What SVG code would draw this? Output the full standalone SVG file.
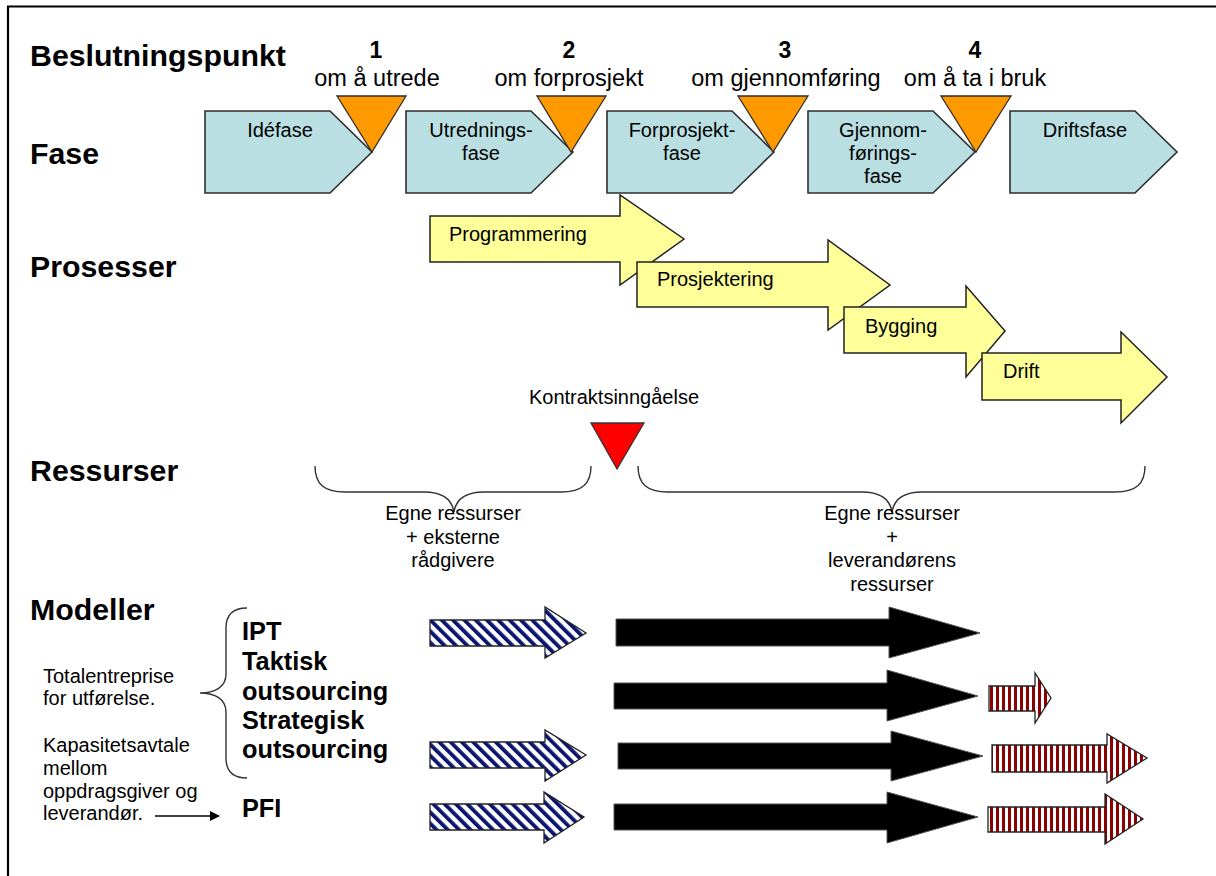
<svg xmlns="http://www.w3.org/2000/svg" width="1216" height="876" viewBox="0 0 1216 876">
<defs>
<pattern id="blueStripe" patternUnits="userSpaceOnUse" width="8" height="8" patternTransform="rotate(-45)">
<rect width="8" height="8" fill="#ffffff"/>
<rect width="3.8" height="8" fill="#0a1470"/>
</pattern>
<pattern id="redStripe" patternUnits="userSpaceOnUse" width="6" height="6">
<rect width="6" height="6" fill="#ffffff"/>
<rect width="3" height="6" fill="#8b0000"/>
</pattern>
<marker id="arr" viewBox="0 0 10 10" refX="9" refY="5" markerWidth="10" markerHeight="10" markerUnits="userSpaceOnUse" orient="auto">
<path d="M0,0 L10,5 L0,10 z" fill="#000"/>
</marker>
<style>
.big{font-family:"Liberation Sans",Arial,sans-serif;font-weight:bold;font-size:30.3px;fill:#000}
.num{font-family:"Liberation Sans",Arial,sans-serif;font-weight:bold;font-size:23px;fill:#000;text-anchor:middle}
.dp{font-family:"Liberation Sans",Arial,sans-serif;font-size:23.5px;fill:#000;text-anchor:middle}
.t{font-family:"Liberation Sans",Arial,sans-serif;font-size:20px;fill:#000}
.c{text-anchor:middle}
.mod{font-family:"Liberation Sans",Arial,sans-serif;font-weight:bold;font-size:25.3px;fill:#000}
.phase{fill:#b9dfe2;stroke:#2e2e2e;stroke-width:1.6}
.tri{fill:#ff9900;stroke:#2e2e2e;stroke-width:1.3}
.proc{fill:#ffff99;stroke:#222;stroke-width:1.5}
.brace{fill:none;stroke:#333;stroke-width:1.4}
.blue{fill:url(#blueStripe);stroke:#222;stroke-width:1.3}
.red{fill:url(#redStripe);stroke:#222;stroke-width:1.3}
.blk{fill:#000;stroke:#555;stroke-width:1}
</style>
</defs>
<rect width="1216" height="876" fill="#ffffff"/>
<g id="frame">
<line x1="7" y1="6.5" x2="1216" y2="6.5" stroke="#000" stroke-width="2"/>
<line x1="8" y1="6" x2="8" y2="876" stroke="#000" stroke-width="2.2"/>
</g>
<g id="row-labels">
<text class="big" x="30" y="66">Beslutningspunkt</text>
<text class="big" x="30" y="164">Fase</text>
<text class="big" x="30" y="277">Prosesser</text>
<text class="big" x="30" y="481">Ressurser</text>
<text class="big" x="30" y="620">Modeller</text>
</g>
<g id="processes">
<g id="programmering"><path class="proc" d="M430,216 L620,216 L620,195 L684,239 L620,285 L620,262 L430,262 Z"/><text class="t" x="449" y="241">Programmering</text></g>
<g id="prosjektering"><path class="proc" d="M637,262 L828,262 L828,240 L890,285 L828,330 L828,307 L637,307 Z"/><text class="t" x="657" y="286">Prosjektering</text></g>
<g id="bygging"><path class="proc" d="M844,307 L966,307 L966,286 L1005,331 L966,377 L966,353 L844,353 Z"/><text class="t" x="865" y="333">Bygging</text></g>
<g id="drift"><path class="proc" d="M982,353 L1121,353 L1121,332 L1167,377 L1121,423 L1121,400 L982,400 Z"/><text class="t" x="1003" y="378">Drift</text></g>
</g>
<g id="phases">
<g id="idefase"><path class="phase" d="M205,111 L330,111 L372,152 L330,193 L205,193 Z"/><text class="t c" x="280" y="137">Idéfase</text></g>
<g id="utredningsfase"><path class="phase" d="M406,111 L531,111 L573,152 L531,193 L406,193 Z"/><text class="t c" x="481" y="137">Utrednings-</text><text class="t c" x="481" y="160">fase</text></g>
<g id="forprosjektfase"><path class="phase" d="M607,111 L732,111 L774,152 L732,193 L607,193 Z"/><text class="t c" x="682" y="137">Forprosjekt-</text><text class="t c" x="682" y="160">fase</text></g>
<g id="gjennomforingsfase"><path class="phase" d="M808,111 L933,111 L975,152 L933,193 L808,193 Z"/><text class="t c" x="883" y="137">Gjennom-</text><text class="t c" x="883" y="160">førings-</text><text class="t c" x="883" y="183">fase</text></g>
<g id="driftsfase"><path class="phase" d="M1010,111 L1135,111 L1177,152 L1135,193 L1010,193 Z"/><text class="t c" x="1085" y="137">Driftsfase</text></g>
</g>
<g id="decision-points">
<g id="bp1"><polygon class="tri" points="337,96 406,96 372,152"/><text class="num" x="376" y="58">1</text><text class="dp" x="377" y="86">om å utrede</text></g>
<g id="bp2"><polygon class="tri" points="537,96 606,96 571,152"/><text class="num" x="569" y="58">2</text><text class="dp" x="569" y="86">om forprosjekt</text></g>
<g id="bp3"><polygon class="tri" points="738,96 808,96 773,152"/><text class="num" x="785" y="58">3</text><text class="dp" x="786" y="86">om gjennomføring</text></g>
<g id="bp4"><polygon class="tri" points="941,96 1011,96 976,152"/><text class="num" x="975" y="58">4</text><text class="dp" x="975" y="86">om å ta i bruk</text></g>
</g>
<g id="contract">
<text class="t c" x="614" y="404">Kontraktsinngåelse</text>
<polygon points="591,423 644,423 617,469" fill="#ff0000" stroke="#333" stroke-width="1.3"/>
</g>
<g id="resources">
<path class="brace" d="M315,466 C315,484 324,492 345,492 L424,492 C444,492 452,500 454,512 C456,500 464,492 484,492 L561,492 C582,492 591,484 591,466"/>
<path class="brace" d="M638,466 C638,484 647,492 668,492 L862,492 C882,492 890,500 892,512 C894,500 902,492 922,492 L1115,492 C1136,492 1145,484 1145,466"/>
<text class="t c" x="453" y="520">Egne ressurser</text>
<text class="t c" x="453" y="544">+ eksterne</text>
<text class="t c" x="453" y="567">rådgivere</text>
<text class="t c" x="892" y="520">Egne ressurser</text>
<text class="t c" x="892" y="544">+</text>
<text class="t c" x="892" y="567">leverandørens</text>
<text class="t c" x="892" y="591">ressurser</text>
</g>
<g id="models">
<path class="brace" d="M247,608 C233,608 226,614 226,628 L226,674 C226,687 215,693 200,693 C215,693 226,699 226,712 L226,758 C226,772 233,778 247,778"/>
<text class="mod" x="242" y="640">IPT</text>
<text class="mod" x="242" y="670">Taktisk</text>
<text class="mod" x="242" y="700">outsourcing</text>
<text class="mod" x="242" y="729">Strategisk</text>
<text class="mod" x="242" y="758">outsourcing</text>
<text class="mod" x="242" y="817">PFI</text>
<text class="t" x="43" y="683">Totalentreprise</text>
<text class="t" x="43" y="705">for utførelse.</text>
<text class="t" x="43" y="752">Kapasitetsavtale</text>
<text class="t" x="43" y="775">mellom</text>
<text class="t" x="43" y="798">oppdragsgiver og</text>
<text class="t" x="43" y="820">leverandør.</text>
</g>
<g id="connectors">
<line x1="155" y1="816" x2="219" y2="816" stroke="#000" stroke-width="1.5" marker-end="url(#arr)"/>
</g>
<g id="model-arrows">
<path class="blue" d="M430,620 L545,620 L545,607 L586,633 L545,658 L545,646 L430,646 Z"/>
<path class="blue" d="M430,742 L545,742 L545,730 L586,755 L545,781 L545,768 L430,768 Z"/>
<path class="blue" d="M430,804 L544,804 L544,792 L584,817 L544,843 L544,830 L430,830 Z"/>
<path class="blk" d="M616,619 L889,619 L889,607 L980,633 L889,658 L889,646 L616,646 Z"/>
<path class="blk" d="M614,683 L887,683 L887,670 L978,696 L887,721 L887,709 L614,709 Z"/>
<path class="blk" d="M618,743 L891,743 L891,731 L983,756 L891,781 L891,769 L618,769 Z"/>
<path class="blk" d="M614,804 L887,804 L887,792 L978,817 L887,843 L887,830 L614,830 Z"/>
<path class="red" d="M989,686 L1035,686 L1035,673 L1051,698 L1035,723 L1035,711 L989,711 Z"/>
<path class="red" d="M992,745 L1107,745 L1107,734 L1147,758 L1107,783 L1107,772 L992,772 Z"/>
<path class="red" d="M988,807 L1105,807 L1105,794 L1143,819 L1105,844 L1105,832 L988,832 Z"/>
</g>
</svg>
